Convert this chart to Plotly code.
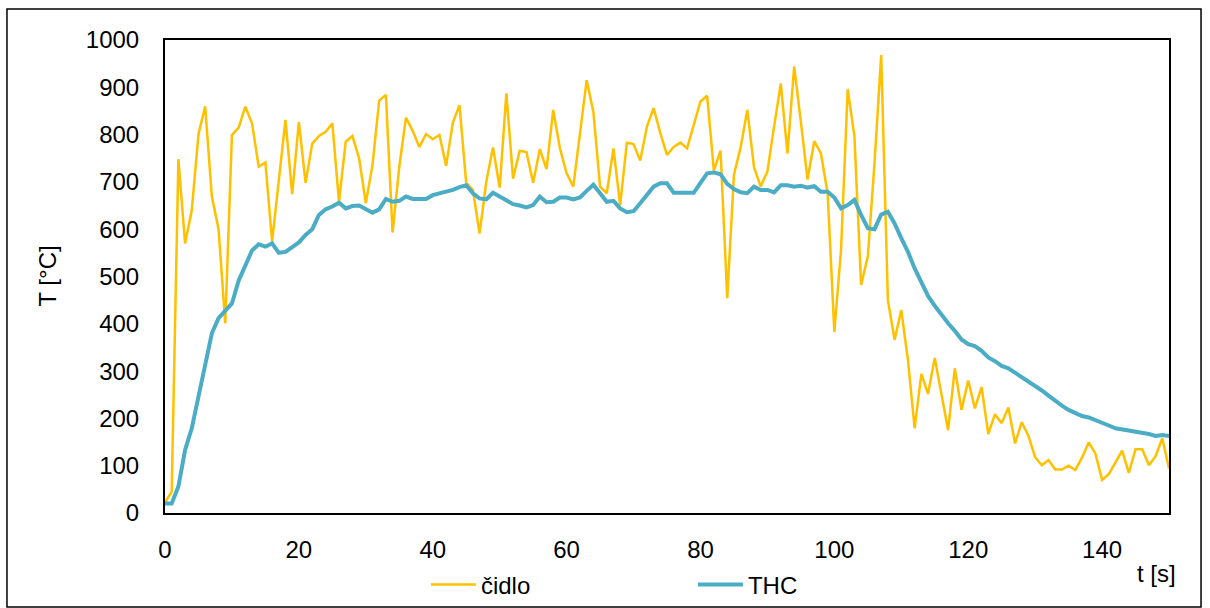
import plotly.graph_objects as go

# time axis, one sample per second
t_s = list(range(0, 151))

# thermocouple on the sensor ("čidlo")
cidlo = [
    22, 45, 748, 570, 640, 801, 860, 669, 600, 401,
    799, 815, 859, 824, 732, 741, 574, 704, 831, 674,
    827, 698, 781, 797, 806, 824, 658, 785, 797, 750,
    655, 736, 872, 884, 593, 732, 836, 808, 774, 801,
    790, 799, 734, 825, 862, 698, 683, 591, 700, 773,
    688, 887, 707, 766, 763, 698, 769, 727, 852, 771,
    718, 690, 803, 915, 848, 690, 676, 771, 651, 783,
    780, 745, 817, 856, 803, 757, 774, 783, 771, 822,
    870, 882, 724, 766, 454, 715, 773, 852, 731, 690,
    722, 817, 908, 760, 944, 827, 705, 786, 760, 676,
    383, 556, 896, 797, 482, 542, 739, 968, 450, 366,
    429, 323, 179, 294, 252, 328, 253, 175, 306, 218,
    280, 221, 266, 167, 209, 190, 223, 147, 192, 163,
    118, 101, 112, 92, 92, 100, 91, 117, 149, 126,
    70, 82, 107, 132, 85, 135, 135, 101, 120, 158,
    94,
]

# reference thermocouple (THC)
thc = [
    20, 20, 56, 133, 179, 246, 309, 380, 412, 429,
    443, 491, 522, 555, 568, 563, 570, 550, 552, 562,
    572, 588, 600, 630, 642, 648, 656, 644, 649, 650,
    642, 635, 642, 664, 658, 660, 669, 664, 664, 664,
    672, 676, 678, 683, 689, 693, 676, 665, 663, 677,
    669, 660, 653, 650, 646, 651, 669, 657, 658, 667,
    667, 663, 667, 681, 694, 676, 658, 660, 644, 636,
    638, 655, 674, 690, 697, 697, 677, 677, 678, 677,
    698, 718, 720, 716, 696, 685, 678, 676, 690, 683,
    683, 678, 693, 693, 690, 692, 688, 691, 679, 679,
    667, 644, 651, 662, 630, 602, 600, 631, 637, 612,
    581, 552, 517, 486, 459, 438, 419, 401, 385, 367,
    357, 353, 343, 329, 321, 311, 306, 297, 288, 279,
    268, 259, 248, 237, 227, 218, 211, 205, 202, 197,
    191, 185, 179, 177, 173, 171, 171, 167, 163, 165,
    163,
]

x_ticks = [0, 20, 40, 60, 80, 100, 120, 140]
y_ticks = [0, 100, 200, 300, 400, 500, 600, 700, 800, 900, 1000]

FONT = "Liberation Sans, Arial, sans-serif"
FS = 24

fig = go.Figure()
fig.add_trace(go.Scatter(
    x=t_s, y=cidlo, mode="lines", name="čidlo",
    line=dict(color="#FFC000", width=2.5),
))
fig.add_trace(go.Scatter(
    x=t_s, y=thc, mode="lines", name="THC",
    line=dict(color="#4BACC6", width=4),
))

fig.update_layout(
    width=1210, height=608,
    margin=dict(l=165, r=41, t=40, b=95, autoexpand=False),
    paper_bgcolor="white", plot_bgcolor="white",
    font=dict(family=FONT, size=FS, color="black"),
    showlegend=True,
    legend=dict(
        orientation="h", xref="container", yref="container",
        x=0.352, y=0.038, xanchor="left", yanchor="middle",
        entrywidth=207, entrywidthmode="pixels", itemwidth=45,
        font=dict(size=FS), bgcolor="rgba(0,0,0,0)",
    ),
)

fig.update_xaxes(
    range=[0, 150], tickvals=x_ticks, ticktext=[str(v) for v in x_ticks],
    showgrid=False, zeroline=False, showline=True, mirror=True,
    linecolor="black", linewidth=2, ticks="", ticklabelstandoff=14,
    tickfont=dict(size=FS),
)
fig.update_yaxes(
    range=[0, 1000], tickvals=y_ticks, ticktext=[str(v) for v in y_ticks],
    showgrid=False, zeroline=False, showline=True, mirror=True,
    linecolor="black", linewidth=2, ticks="", ticklabelstandoff=19,
    tickfont=dict(size=FS),
)

# axis titles
fig.add_annotation(
    text="T [°C]", xref="paper", yref="paper", x=-0.1175, y=0.5,
    xanchor="center", yanchor="middle", textangle=-90, showarrow=False,
    font=dict(size=FS),
)
fig.add_annotation(
    text="t [s]", xref="paper", yref="paper", x=0.988, y=-0.128,
    xanchor="center", yanchor="middle", showarrow=False,
    font=dict(size=FS),
)

# outer chart frame
fig.add_shape(
    type="rect", xref="paper", yref="paper",
    x0=-0.1574, x1=1.0319, y0=-0.1987, y1=1.0655,
    line=dict(color="black", width=1.5), fillcolor="rgba(0,0,0,0)",
    layer="below",
)

fig.write_html("out.html")
